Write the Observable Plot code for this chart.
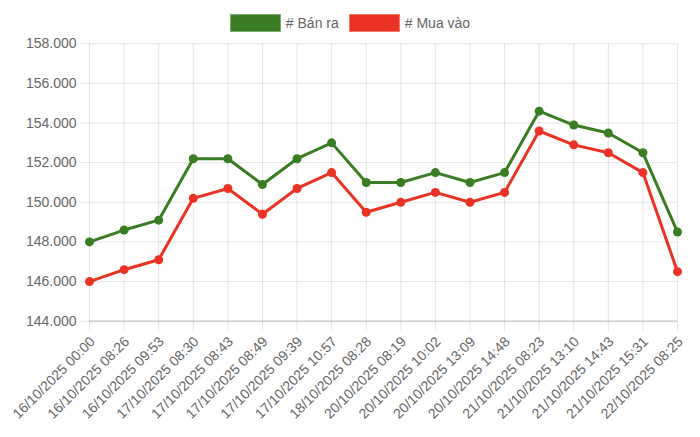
<!DOCTYPE html>
<html>
<head>
<meta charset="utf-8">
<script src="https://cdn.jsdelivr.net/npm/d3@7"></script>
<script src="https://cdn.jsdelivr.net/npm/@observablehq/plot@0.6"></script>
<style>
  body { margin: 0; background: #fff; font-family: "Liberation Sans", Helvetica, Arial, sans-serif; overflow: hidden; }
  #legend { height: 34px; box-sizing: border-box; padding-top: 14px; display: flex; justify-content: center; align-items: flex-start; font-size: 14px; color: #666; }
  .item { display: flex; align-items: center; margin: 0 5px; }
  .box { width: 49px; height: 16px; margin-right: 5px; border: 1px solid rgba(255,255,255,0.35); }
  .lbl { line-height: 18px; }
</style>
</head>
<body>
<div id="legend"></div>
<div id="chart"></div>
<script>
const labels = [
  "16/10/2025 00:00","16/10/2025 08:26","16/10/2025 09:53","17/10/2025 08:30",
  "17/10/2025 08:43","17/10/2025 08:49","17/10/2025 09:39","17/10/2025 10:57",
  "18/10/2025 08:28","20/10/2025 08:19","20/10/2025 10:02","20/10/2025 13:09",
  "20/10/2025 14:48","21/10/2025 08:23","21/10/2025 13:10","21/10/2025 14:43",
  "21/10/2025 15:31","22/10/2025 08:25"
];
const banRa = [148000,148600,149100,152200,152200,150900,152200,153000,151000,151000,151500,151000,151500,154600,153900,153500,152500,148500];
const muaVao = [146000,146600,147100,150200,150700,149400,150700,151500,149500,150000,150500,150000,150500,153600,152900,152500,151500,146500];
const seriesNames = ["# Bán ra", "# Mua vào"];
const seriesColors = ["#3a7d23", "#ea3324"];
const yTicks = [144000,146000,148000,150000,152000,154000,156000,158000];

const loc = d3.formatLocale({decimal: ",", thousands: ".", grouping: [3], currency: ["", ""]});
const fmt = loc.format(",.0f");

const rows = [];
labels.forEach((l, i) => {
  rows.push({t: l, v: banRa[i], s: seriesNames[0]});
  rows.push({t: l, v: muaVao[i], s: seriesNames[1]});
});

const legend = document.getElementById("legend");
seriesNames.forEach((n, i) => {
  const it = document.createElement("div"); it.className = "item";
  const b = document.createElement("div"); b.className = "box"; b.style.background = seriesColors[i];
  const t = document.createElement("span"); t.className = "lbl"; t.textContent = n;
  it.appendChild(b); it.appendChild(t); legend.appendChild(it);
});

const chart = Plot.plot({
  width: 700,
  height: 403,
  marginTop: 9.3,
  marginBottom: 116.3,
  marginLeft: 89,
  marginRight: 23,
  style: {fontFamily: "'Liberation Sans', Helvetica, Arial, sans-serif", fontSize: "14px", overflow: "visible"},
  x: {type: "point", domain: labels, padding: 0, round: false, label: null},
  y: {domain: [144000, 158000], label: null},
  color: {domain: seriesNames, range: seriesColors},
  marks: [
    Plot.gridY(yTicks, {stroke: "#000", strokeOpacity: 0.1, strokeWidth: 1}),
    Plot.gridX(labels, {stroke: "#000", strokeOpacity: 0.1, strokeWidth: 1}),
    Plot.ruleY([144000], {stroke: "#000", strokeOpacity: 0.12, strokeWidth: 2}),
    Plot.axisY(yTicks, {tickSize: 9, tickPadding: 4, tickFormat: fmt, stroke: "#000", strokeOpacity: 0.1, fill: "#666", fontSize: 14, label: null}),
    Plot.axisX(labels, {tickSize: 10, text: null, stroke: "#000", strokeOpacity: 0.1, label: null}),
    Plot.axisX(labels, {tickSize: 0, tickPadding: 18, dx: 3, tickRotate: -45, fill: "#666", fontSize: 14, label: null}),
    Plot.line(rows, {x: "t", y: "v", z: "s", stroke: "s", strokeWidth: 3}),
    Plot.dot(rows, {x: "t", y: "v", fill: "s", r: 4.5})
  ]
});
document.getElementById("chart").appendChild(chart);
</script>
</body>
</html>
